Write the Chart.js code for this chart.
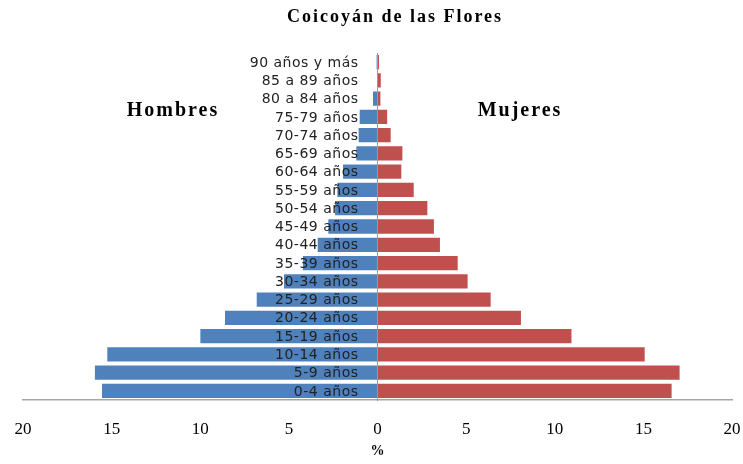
<!DOCTYPE html>
<html>
<head>
<meta charset="utf-8">
<script src="https://cdn.jsdelivr.net/npm/chart.js@4.4.1/dist/chart.umd.min.js"></script>
<style>
  body { margin: 0; background: #fff; }
  #wrap { width: 743px; height: 464px; }
</style>
</head>
<body>
<div id="wrap"><canvas id="pyramid"></canvas></div>
<script>
// age groups, bottom to top
const ageGroups = ['0-4 años', '5-9 años', '10-14 años', '15-19 años', '20-24 años', '25-29 años',
    '30-34 años', '35-39 años', '40-44 años', '45-49 años', '50-54 años', '55-59 años',
    '60-64 años', '65-69 años', '70-74 años', '75-79 años', '80 a 84 años', '85 a 89 años', '90 años y más'];
// percent of population
const hombres = [15.6, 16.0, 15.3, 10.05, 8.66, 6.87, 5.33, 4.26, 3.43, 2.83, 2.45, 2.32, 2.0, 1.25, 1.12, 1.06, 0.31, 0.05, 0.1];
const mujeres = [16.65, 17.1, 15.13, 11.0, 8.15, 6.44, 5.14, 4.58, 3.58, 3.24, 2.87, 2.1, 1.4, 1.46, 0.8, 0.6, 0.22, 0.24, 0.14];
const xTicks = [-20, -15, -10, -5, 0, 5, 10, 15, 20];

const serif = '"Liberation Serif", "Times New Roman", serif';

// age labels sit on top of the bars, right aligned just left of the 0 line
const ageLabelPlugin = {
    id: 'ageLabels',
    afterDatasetsDraw(chart) {
        const ctx = chart.ctx;
        const x0 = chart.scales.x.getPixelForValue(0) - 19;
        ctx.save();
        ctx.fillStyle = '#222';
        ctx.textAlign = 'right';
        ctx.textBaseline = 'middle';
        ctx.letterSpacing = '0.5px';
        ctx.font = '14px "DejaVu Sans", Verdana, sans-serif';
        ageGroups.forEach((label, i) => {
            ctx.fillText(label, x0, chart.scales.y.getPixelForValue(i) + 1);
        });
        ctx.restore();
    }
};

// title and side labels (Excel draws them with wide letter spacing)
const textPlugin = {
    id: 'pyramidText',
    afterDraw(chart) {
        const ctx = chart.ctx;
        ctx.save();
        ctx.fillStyle = '#000';
        ctx.textAlign = 'center';
        ctx.textBaseline = 'middle';
        ctx.letterSpacing = '2px';
        ctx.font = 'bold 18px ' + serif;
        ctx.fillText('Coicoyán de las Flores', 395, 17);
        ctx.font = 'bold 20px ' + serif;
        ctx.fillText('Hombres', 173, 111);
        ctx.fillText('Mujeres', 520, 111);
        ctx.restore();
    }
};

const ctx = document.getElementById('pyramid').getContext('2d');
const pyramid = new Chart(ctx, {
    type: 'bar',
    data: {
        labels: ageGroups,
        datasets: [{
            label: 'Hombres',
            data: hombres.map(v => -v),
            backgroundColor: '#4f81bd',
            borderColor: 'rgba(255,255,255,0.55)',
            borderWidth: 1
        }, {
            label: 'Mujeres',
            data: mujeres,
            backgroundColor: '#c0504d',
            borderColor: 'rgba(255,255,255,0.55)',
            borderWidth: 1
        }]
    },
    options: {
        indexAxis: 'y',
        responsive: true,
        maintainAspectRatio: false,
        animation: false,
        barPercentage: 0.89,
        categoryPercentage: 1,
        layout: { padding: { top: 53, left: 23, right: 11, bottom: 0 } },
        plugins: {
            legend: { display: false },
            tooltip: { enabled: false }
        },
        scales: {
            x: {
                stacked: true,
                min: -20,
                max: 20,
                afterBuildTicks(scale) { scale.ticks = xTicks.map(v => ({ value: v })); },
                afterFit(scale) { scale.height = 64; },
                // invisible tick length gives the gap under the axis line
                grid: { display: false, drawTicks: true, tickLength: 19 },
                border: { color: '#a6a6a6', width: 1.5 },
                ticks: {
                    padding: 0,
                    color: '#000',
                    font: { family: serif, size: 17 },
                    callback: v => Math.abs(v)
                },
                title: {
                    display: true,
                    text: '%',
                    color: '#000',
                    font: { family: serif, size: 14, weight: 'bold' },
                    padding: { top: 2, bottom: 4 }
                }
            },
            y: {
                stacked: true,
                reverse: true,
                position: { x: 0 },
                grid: { display: false, drawTicks: false },
                border: { color: '#9a9a9a', width: 1, z: 1 },
                ticks: { display: false }
            }
        }
    },
    plugins: [ageLabelPlugin, textPlugin]
});
</script>
</body>
</html>
